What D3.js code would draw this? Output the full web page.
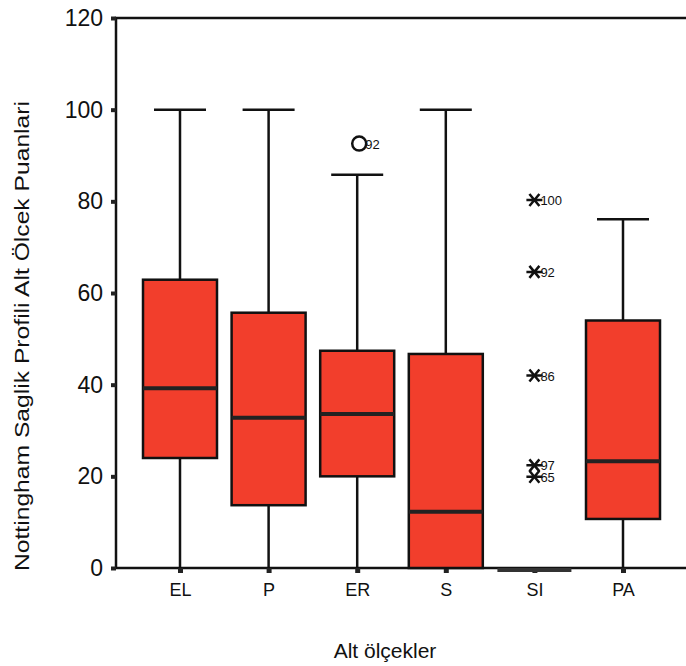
<!DOCTYPE html>
<html>
<head>
<meta charset="utf-8">
<script src="https://cdn.jsdelivr.net/npm/d3@7"></script>
<style>
  body { margin: 0; background: #fff; }
  text { font-family: "Liberation Sans", Arial, sans-serif; fill: #111; }
</style>
</head>
<body>
<div id="chart"></div>
<script>
var width = 686;
var height = 666;
var plot = {left: 116, top: 18, right: 686, bottom: 568};

// data
var categories = ["EL", "P", "ER", "S", "SI", "PA"];
var mins    = [0, 0, 0, 0, 0, 0];
var q1s     = [24, 13.7, 20, 0, 0, 10.7];
var medians = [39.2, 32.8, 33.6, 12.3, 0, 23.3];
var q3s     = [62.9, 55.7, 47.4, 46.7, 0, 54];
var maxs    = [100, 100, 85.8, 100, 0, 76.1];

// outliers (circle) and extremes (asterisk)
var outCat    = ["ER"];
var outVal    = [92.6];
var outLabel  = ["92"];
var extCat    = ["SI", "SI", "SI", "SI", "SI"];
var extVal    = [80.3, 64.6, 42, 22.4, 19.9];
var extLabel  = ["100", "92", "86", "97", "65"];

var yTicks = [0, 20, 40, 60, 80, 100, 120];

var svg = d3.select("#chart")
            .append("svg")
              .attr("width", width)
              .attr("height", height);

var xScale = d3.scalePoint()
                .domain(categories)
                .range([180, 623]);

var yScale = d3.scaleLinear()
                .domain([0, 120])
                .range([plot.bottom, plot.top]);

var boxW = 74;
var capW = 52;
var boxFill = "#f23e2c";

// frame
svg.append("path")
    .attr("d", "M" + plot.right + "," + plot.top + "H" + plot.left + "V" + plot.bottom + "H" + plot.right)
    .attr("fill", "none")
    .attr("stroke", "#111")
    .attr("stroke-width", 2.5);

// y axis ticks
var yAxis = d3.axisLeft(yScale).tickValues(yTicks).tickSize(5).tickPadding(8);
var gy = svg.append("g")
            .attr("transform", "translate(" + plot.left + ",0)")
            .call(yAxis);
gy.select(".domain").remove();
gy.selectAll(".tick line").attr("stroke", "#222").attr("stroke-width", 4);
gy.selectAll(".tick text")
    .style("font-size", "23px")
    .attr("font-family", null);

// x axis ticks
var xAxis = d3.axisBottom(xScale).tickSize(5).tickPadding(10);
var gx = svg.append("g")
            .attr("transform", "translate(0," + plot.bottom + ")")
            .call(xAxis);
gx.select(".domain").remove();
gx.selectAll(".tick line").attr("stroke", "#222").attr("stroke-width", 5);
gx.selectAll(".tick text")
    .style("font-size", "18px")
    .attr("font-family", null);

// boxes
var boxes = categories.map(function(c, i) {
  return {cat: c, min: mins[i], q1: q1s[i], med: medians[i], q3: q3s[i], max: maxs[i]};
});

var g = svg.append("g").attr("class", "boxes");

boxes.forEach(function(d) {
  var cx = xScale(d.cat);
  if (d.q3 > d.q1) {
    // whiskers
    g.append("line")
      .attr("x1", cx).attr("x2", cx)
      .attr("y1", yScale(d.max)).attr("y2", yScale(d.q3))
      .attr("stroke", "#111").attr("stroke-width", 2.5);
    g.append("line")
      .attr("x1", cx).attr("x2", cx)
      .attr("y1", yScale(d.q1)).attr("y2", yScale(d.min))
      .attr("stroke", "#111").attr("stroke-width", 2.5);
    g.append("line")
      .attr("x1", cx - capW / 2).attr("x2", cx + capW / 2)
      .attr("y1", yScale(d.max)).attr("y2", yScale(d.max))
      .attr("stroke", "#111").attr("stroke-width", 2.5);
    g.append("rect")
      .attr("x", cx - boxW / 2)
      .attr("y", yScale(d.q3))
      .attr("width", boxW)
      .attr("height", yScale(d.q1) - yScale(d.q3))
      .attr("fill", boxFill)
      .attr("stroke", "#111")
      .attr("stroke-width", 2.5);
    g.append("line")
      .attr("x1", cx - boxW / 2).attr("x2", cx + boxW / 2)
      .attr("y1", yScale(d.med)).attr("y2", yScale(d.med))
      .attr("stroke", "#222").attr("stroke-width", 4);
  } else {
    // collapsed box
    g.append("line")
      .attr("x1", cx - boxW / 2).attr("x2", cx + boxW / 2)
      .attr("y1", yScale(d.med) + 2).attr("y2", yScale(d.med) + 2)
      .attr("stroke", "#333").attr("stroke-width", 4);
  }
});

// outliers
outCat.forEach(function(c, i) {
  var cx = xScale(c) + 2;
  var cy = yScale(outVal[i]);
  svg.append("circle")
    .attr("cx", cx).attr("cy", cy).attr("r", 7)
    .attr("fill", "none").attr("stroke", "#111").attr("stroke-width", 2.5);
  svg.append("text")
    .attr("x", cx + 6).attr("y", cy + 5)
    .style("font-size", "13px")
    .text(outLabel[i]);
});

// extremes
extCat.forEach(function(c, i) {
  var cx = xScale(c);
  var cy = yScale(extVal[i]);
  svg.append("path")
    .attr("d", "M" + (cx - 8) + "," + cy + "H" + (cx + 8) +
               "M" + (cx - 5) + "," + (cy - 6) + "L" + (cx + 5) + "," + (cy + 6) +
               "M" + (cx - 5) + "," + (cy + 6) + "L" + (cx + 5) + "," + (cy - 6))
    .attr("stroke", "#111").attr("stroke-width", 2.5).attr("fill", "none");
  svg.append("text")
    .attr("x", cx + 6).attr("y", cy + 5)
    .style("font-size", "13px")
    .text(extLabel[i]);
});

// axis titles
svg.append("text")
    .attr("x", 385).attr("y", 658)
    .attr("text-anchor", "middle")
    .style("font-size", "21px")
    .text("Alt ölçekler");

svg.append("text")
    .attr("transform", "translate(29,336) rotate(-90)")
    .attr("text-anchor", "middle")
    .attr("textLength", 470)
    .attr("lengthAdjust", "spacingAndGlyphs")
    .style("font-size", "21px")
    .text("Nottingham Saglik Profili Alt Ölcek Puanlari");
</script>
</body>
</html>
